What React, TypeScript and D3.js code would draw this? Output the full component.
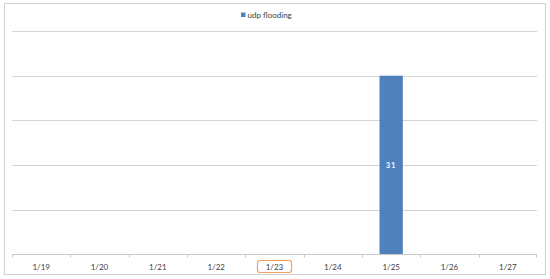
import React from "react";
import * as d3 from "d3";

const categories = ["1/19", "1/20", "1/21", "1/22", "1/23", "1/24", "1/25", "1/26", "1/27"];
const values = [0, 0, 0, 0, 0, 0, 31, 0, 0];
const seriesName = "udp flooding";
const yMax = 38.75;
const yTicks = [0, 7.75, 15.5, 23.25, 31, 38.75];
const highlighted = "1/23";

export default function App() {
  const W = 550, H = 279;
  const left = 12, right = 537, top = 31, bottom = 254.5;
  const x = d3.scaleBand().domain(categories).range([left, right]).paddingInner(0).paddingOuter(0);
  const y = d3.scaleLinear().domain([0, yMax]).range([bottom, top]);
  const barW = x.bandwidth() * 0.4;
  const font = "Lato, 'Open Sans', sans-serif";
  return (
    <svg width={W} height={H} style={{ position: "absolute", left: 0, top: 0 }}>
      <rect x={0} y={0} width={W} height={H} fill="#fff" />
      <rect x={4.5} y={3.5} width={541} height={271} fill="#fff" stroke="#d0d0d0" strokeWidth={1} />
      {yTicks.slice(1).map((t) => (
        <line key={t} x1={left} x2={right} y1={Math.round(y(t)) + 0.5} y2={Math.round(y(t)) + 0.5} stroke="#d4d4d4" strokeWidth={1} />
      ))}
      {categories.map((c, i) => {
        const v = values[i];
        if (!v) return null;
        const cx = (x(c) as number) + x.bandwidth() / 2;
        return (
          <g key={c}>
            <rect x={cx - barW / 2} y={y(v)} width={barW} height={bottom - y(v)} fill="#4f81bd" />
            <text x={cx} y={(y(v) + bottom) / 2 + 3} fontSize={7} fill="#fff" fontFamily={font} textAnchor="middle" fontWeight="bold" letterSpacing={1}>
              {v}
            </text>
          </g>
        );
      })}
      <line x1={left} x2={right} y1={bottom} y2={bottom} stroke="#c8c8c8" strokeWidth={1} />
      {categories.map((c) => (
        <line key={"t" + c} x1={Math.round(x(c) as number) + 0.5} x2={Math.round(x(c) as number) + 0.5} y1={bottom} y2={bottom + 3} stroke="#c8c8c8" />
      ))}
      <line x1={right - 0.5} x2={right - 0.5} y1={bottom} y2={bottom + 3} stroke="#c8c8c8" />
      {categories.map((c) => {
        const cx = (x(c) as number) + x.bandwidth() / 2;
        return (
          <g key={"l" + c}>
            {c === highlighted && (
              <rect x={cx - 17} y={260.5} width={34} height={12} rx={2.5} fill="none" stroke="#f0a060" strokeWidth={1.2} />
            )}
            <text x={cx} y={269.5} fontSize={8} fill="#404040" fontFamily={font} textAnchor="middle">
              {c}
            </text>
          </g>
        );
      })}
      <rect x={241} y={12.5} width={4.5} height={4.5} fill="#4f81bd" />
      <text x={247.5} y={17.5} fontSize={8} fill="#404040" fontFamily={font}>
        {seriesName}
      </text>
    </svg>
  );
}
